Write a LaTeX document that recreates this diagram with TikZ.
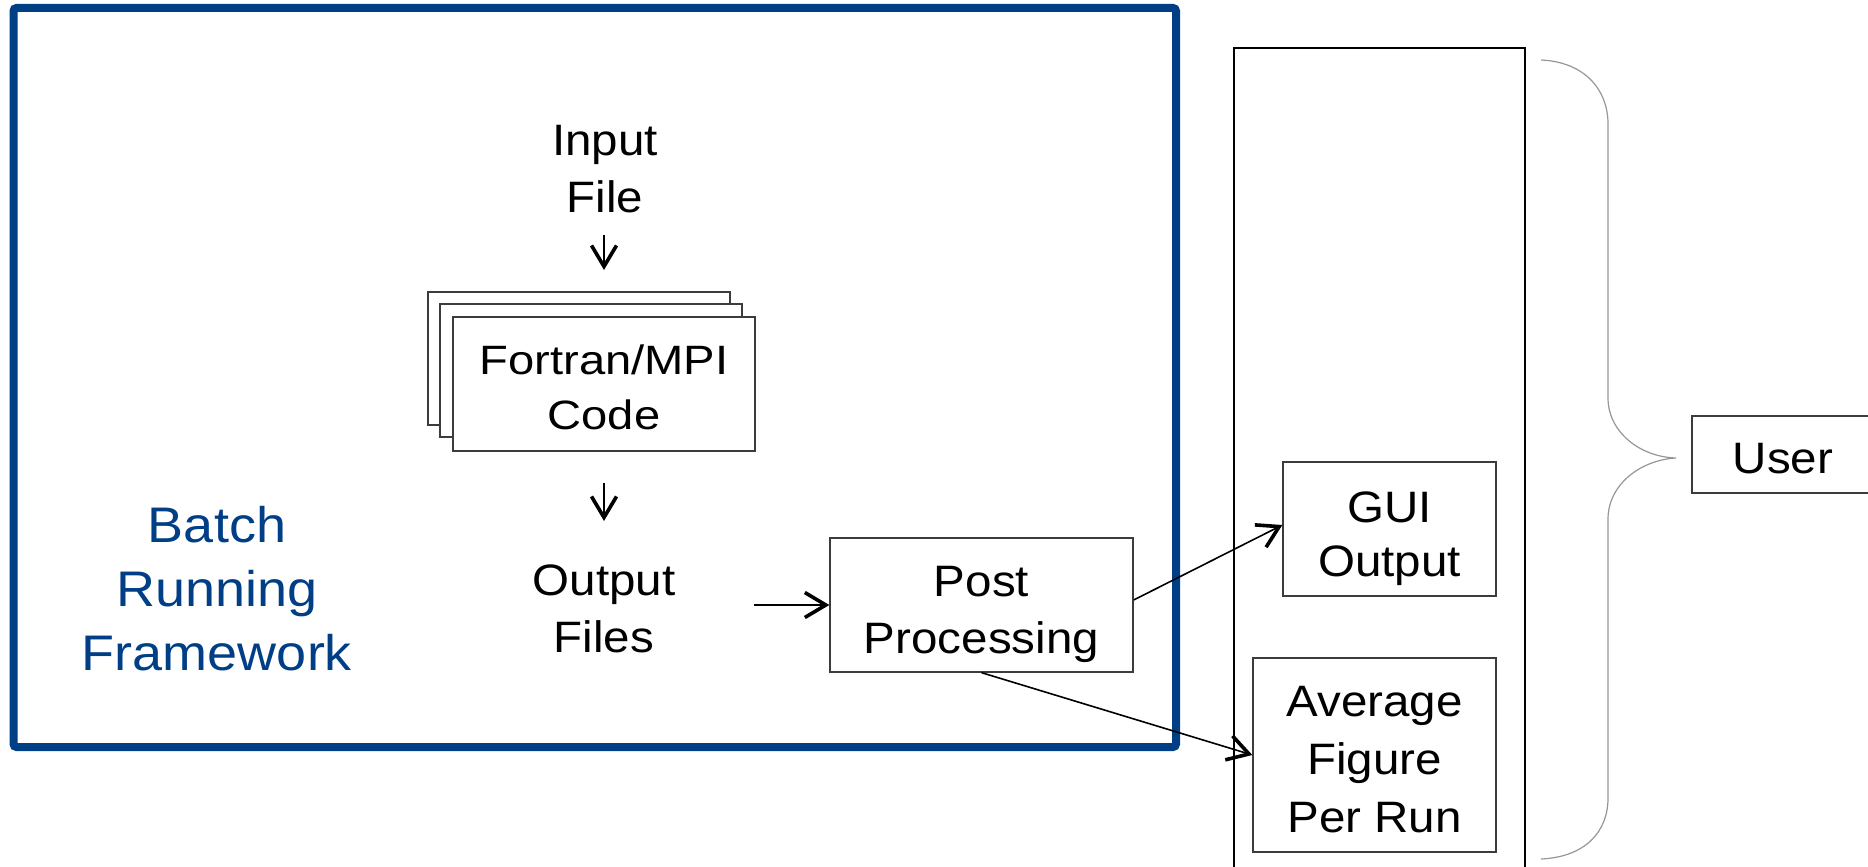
\documentclass[tikz,border=0pt]{standalone}
\usepackage{fontspec}
\setmainfont{Liberation Sans}[FakeStretch=1.08]
\newfontfamily\widefont{Liberation Sans}[FakeStretch=1.15]
\usetikzlibrary{arrows.meta}
\definecolor{frameblue}{RGB}{0,62,134}
\definecolor{boxline}{RGB}{60,60,60}
\definecolor{bracegray}{RGB}{150,150,150}
\begin{document}
\begin{tikzpicture}[x=1pt,y=-1pt,
  txt/.style={align=center, inner sep=0pt, anchor=base,
    font=\fontsize{44}{57}\selectfont},
  box/.style={draw=boxline, line width=1.3pt, fill=white, inner sep=0pt,
    text depth=0pt, align=center, font=\fontsize{44}{57}\selectfont},
  arr/.style={line width=1.6pt,
    -{Straight Barb[length=21pt,width=25pt,line width'=3.6pt]}},
]
\useasboundingbox (0,0) rectangle (1868,867);

% batch framework frame
\draw[frameblue, line width=8pt, rounded corners=3pt] (13.5,8) rectangle (1176,747);
\node[txt, text=frameblue, font=\fontsize{50}{64}\selectfont] (batch) at (217,670)
  {Batch\\Running\\Framework};

% input file and the stacked solver runs
\node[txt] (inp) at (605,212) {Input\\File};
\node[box, minimum width=302pt, minimum height=133pt] (fback) at (579,358.5) {};
\node[box, minimum width=302pt, minimum height=133pt] (fmid) at (591,370.5) {};
\node[box, minimum width=302pt, minimum height=134pt, text height=90pt,
  font=\widefont\fontsize{41}{54.5}\selectfont] (code) at (604,384) {Fortran/MPI\\Code};
\node[txt] (outf) at (604,652) {Output\\Files};
\node[box, minimum width=303pt, minimum height=134pt, text height=96pt] (post)
  at (981.5,605) {Post\\Processing};

% output panel
\node[draw=black, line width=2pt, minimum width=291pt, minimum height=832pt,
  inner sep=0pt] (panel) at (1379.5,464) {};
\node[box, minimum width=213pt, minimum height=134pt, text height=94pt,
  font=\fontsize{44}{54}\selectfont] (gui) at (1389.5,529) {GUI\\Output};
\node[box, minimum width=243pt, minimum height=194pt, text height=154pt,
  font=\fontsize{44}{58}\selectfont] (avg) at (1374.5,755) {Average\\Figure\\Per Run};

% user
\node[box, minimum width=188pt, minimum height=77pt] (user) at (1786,454.5) {};
\node[txt] (usertxt) at (1783,473) {User};
\draw[bracegray, line width=1.2pt]
  (1541,60) .. controls (1585,62) and (1608,90) .. (1608,124) -- (1608,398)
  .. controls (1608,432) and (1640,457) .. (1676,458)
  .. controls (1640,460) and (1608,485) .. (1608,519) -- (1608,798)
  .. controls (1608,832) and (1585,857) .. (1541,859);

% connectors
\coordinate (inA) at (604,235);
\coordinate (inB) at (604,270);
\coordinate (outA) at (604,483);
\coordinate (outB) at (604,521);
\coordinate (ofs) at (754,605);
\draw[arr] (inA) -- (inB);
\draw[arr] (outA) -- (outB);
\draw[arr] (ofs) -- (post.west);
\draw[arr] ([yshift=5pt]post.east) -- ([yshift=4pt]gui.west);
\draw[arr] (post.south) -- (avg.west);
\end{tikzpicture}
\end{document}
